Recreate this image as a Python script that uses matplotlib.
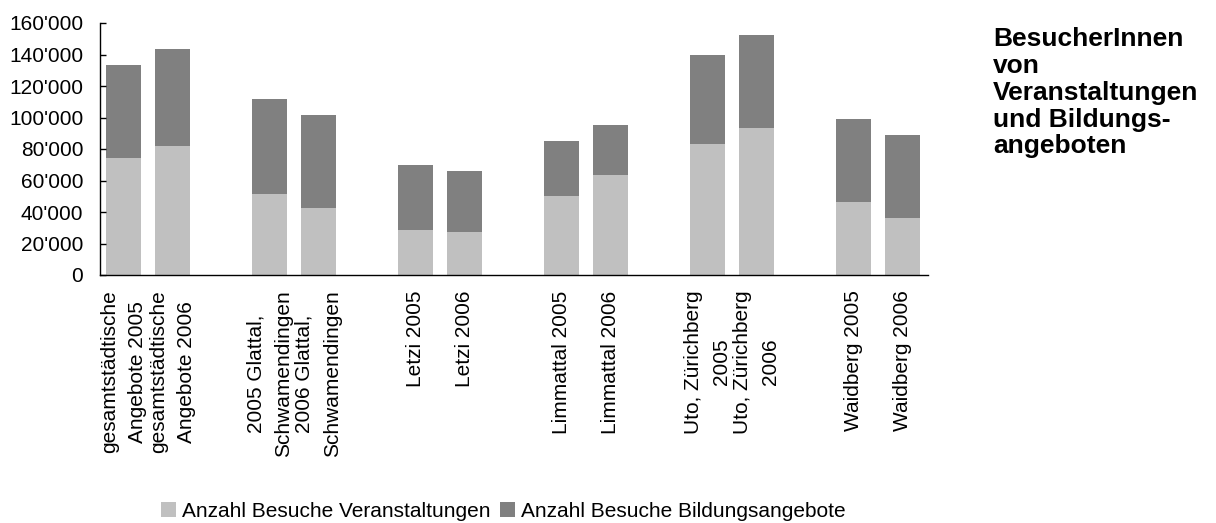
import matplotlib
matplotlib.use("Agg")
import matplotlib.pyplot as plt
from matplotlib.ticker import FuncFormatter, MultipleLocator

plt.rcParams['font.family'] = ['Liberation Sans', 'DejaVu Sans']

# Data
labels = [
    "gesamtstädtische\nAngebote 2005", "gesamtstädtische\nAngebote 2006",
    "2005 Glattal,\nSchwamendingen", "2006 Glattal,\nSchwamendingen",
    "Letzi 2005", "Letzi 2006",
    "Limmattal 2005", "Limmattal 2006",
    "Uto, Zürichberg\n2005", "Uto, Zürichberg\n2006",
    "Waidberg 2005", "Waidberg 2006",
]
veranstaltungen = [74300, 81900, 51400, 42500, 28600, 27300, 50200, 63500, 83200, 93300, 46300, 36200]
bildungsangebote = [59000, 61600, 60300, 59100, 41200, 38700, 34900, 31700, 56500, 59100, 52700, 52700]
series_names = ["Anzahl Besuche Veranstaltungen", "Anzahl Besuche Bildungsangebote"]
title = "BesucherInnen\nvon\nVeranstaltungen\nund Bildungs-\nangeboten"

c_light = "#C0C0C0"
c_dark = "#808080"

# bars come in pairs with an empty slot between the pairs
x = [i + i // 2 for i in range(len(labels))]

fig = plt.figure(figsize=(12.16, 5.23), dpi=100)
ax = fig.add_axes([100 / 1216, 1 - 275 / 523, 828 / 1216, 252 / 523])

ax.bar(x, veranstaltungen, width=0.72, color=c_light, label=series_names[0])
ax.bar(x, bildungsangebote, width=0.72, bottom=veranstaltungen, color=c_dark, label=series_names[1])

ax.set_xlim(-0.483, 16.524)
ax.set_ylim(0, 160000)
ax.yaxis.set_major_locator(MultipleLocator(20000))
ax.yaxis.set_major_formatter(FuncFormatter(lambda v, p: f"{int(v):,}".replace(",", "'")))

ax.set_xticks(x)
ax.set_xticklabels(labels, rotation=90, ha="center", va="top", multialignment="center", linespacing=1.6)
ax.tick_params(axis="x", length=0, pad=11, labelsize=15)
ax.tick_params(axis="y", direction="in", length=4.5, width=1, pad=12, labelsize=15)

for side in ["top", "right"]:
    ax.spines[side].set_visible(False)
for side in ["left", "bottom"]:
    ax.spines[side].set_linewidth(1.0)
    ax.spines[side].set_color("black")

fig.text(993 / 1216, 1 - 27 / 523, title, ha="left", va="top", fontsize=19,
         fontweight="bold", linespacing=1.15)

fig.legend(loc="center", bbox_to_anchor=(0.414, 0.022), ncol=2, frameon=False,
           fontsize=15, handlelength=0.72, handleheight=0.72, handletextpad=0.3,
           columnspacing=0.45, borderaxespad=0)

fig.savefig("out.png", dpi=100)
